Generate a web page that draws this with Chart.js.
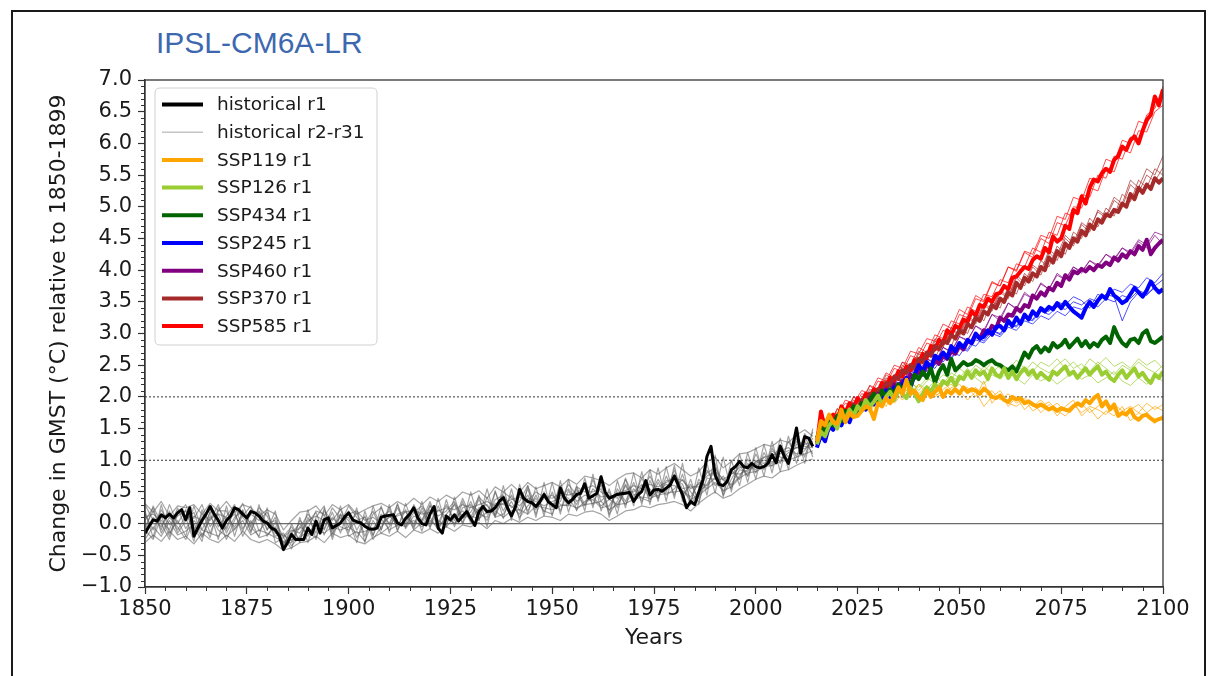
<!DOCTYPE html>
<html><head><meta charset="utf-8">
<script src="https://cdn.jsdelivr.net/npm/chart.js@4.4.0/dist/chart.umd.min.js"></script>
<style>
html,body{margin:0;padding:0;background:#fff;}
#wrap{position:relative;width:1212px;height:676px;overflow:hidden;background:#fff;}
#frame{position:absolute;left:11px;top:10px;width:1195px;height:700px;border:2px solid #1a1a1a;box-sizing:border-box;}
#title{position:absolute;left:156px;top:25px;font-family:"Liberation Sans",Arial,sans-serif;font-size:30px;line-height:36px;color:#3d68b0;white-space:nowrap;}
canvas{position:absolute;left:0;top:0;}
</style></head>
<body><div id="wrap"><div id="frame"></div><div id="title">IPSL-CM6A-LR</div><canvas id="c" width="1212" height="676"></canvas></div>
<script>
// ---------- DATA ----------
const histStart = 1850;
const histR1 = [
 -0.15,-0.04,0.06,0.04,0.14,0.09,0.15,0.09,0.17,0.22,
 0.06,0.25,-0.2,-0.07,0.05,0.15,0.27,0.15,0.05,-0.07,
 0.05,0.12,0.25,0.22,0.15,0.09,0.19,0.17,0.12,0.04,
 0.01,-0.07,-0.1,-0.2,-0.41,-0.3,-0.17,-0.25,-0.25,-0.25,
 -0.07,-0.17,0.04,-0.15,0.06,0.09,-0.07,-0.03,0.01,0.1,
 0.17,0.06,0.03,0.01,-0.04,-0.08,-0.09,-0.07,0.1,0.12,
 0.13,0.14,0.01,-0.02,0.08,0.15,0.25,0.09,0.0,-0.02,
 0.15,0.27,-0.07,-0.15,0.12,0.06,0.14,0.04,0.12,0.19,
 0.08,-0.03,0.19,0.27,0.19,0.2,0.25,0.35,0.41,0.25,
 0.12,0.27,0.54,0.4,0.35,0.33,0.27,0.35,0.46,0.35,
 0.3,0.25,0.56,0.4,0.33,0.38,0.46,0.48,0.63,0.4,
 0.44,0.48,0.74,0.5,0.4,0.43,0.46,0.47,0.48,0.49,
 0.35,0.45,0.51,0.68,0.45,0.53,0.54,0.51,0.56,0.61,
 0.75,0.6,0.46,0.25,0.35,0.3,0.5,0.69,1.06,1.22,
 0.77,0.62,0.6,0.67,0.85,0.9,0.98,0.9,0.88,0.95,
 0.9,0.88,0.9,0.95,1.09,0.96,1.22,1.06,0.95,1.2,
 1.51,1.11,1.37,1.35,1.22
];

// historical r2-r31 (sampled every 2 years, 1850-2014)
const histMemberStart = 1850, histMemberStep = 2;
const histMembers = [
 [0.15,-0.1,0.22,-0.02,0.12, 0.2,-0.15,0.1,0.25,-0.05, 0.12,0.3,-0.08,0.15,0.05, 0.18,-0.12,-0.2,-0.05,-0.28,
  0.1,-0.15,0.2,0.05,0.22, -0.05,0.18,-0.2,0.15,0.25, -0.02,0.25,0.0,0.3,0.05, 0.35,0.0,0.3,0.05,0.4,
  0.1,0.38,0.15,0.5,0.2, 0.45,0.2,0.55,0.15,0.5, 0.25,0.6,0.3,0.55,0.3, 0.7,0.35,0.5,0.25,0.62,
  0.4,0.72,0.45,0.7,0.5, 0.85,0.45,0.62,0.4,0.85, 0.6,0.75,0.55,1.0,0.75, 1.1,0.85,1.2,0.95,1.3, 1.05,1.42,1.2],
 [-0.2,0.1,-0.05,0.2,-0.15, 0.05,0.18,-0.2,0.08,0.15, -0.15,0.1,0.2,-0.12,0.18, -0.1,0.1,-0.35,-0.15,0.0,
  -0.2,0.05,-0.1,0.18,-0.15, 0.2,-0.1,0.12,-0.18,0.1, 0.2,-0.05,0.22,-0.08,0.25, 0.0,0.28,-0.02,0.32,0.08,
  0.35,0.05,0.42,0.12,0.4, 0.12,0.48,0.2,0.45,0.18, 0.5,0.2,0.52,0.3,0.6, 0.3,0.62,0.2,0.55,0.35,
  0.65,0.35,0.68,0.4,0.75, 0.45,0.78,0.35,0.7,0.55, 0.95,0.5,0.85,0.7,1.02, 0.8,1.12,0.9,1.25,0.98, 1.35,1.05,1.45],
 [0.05,0.25,-0.15,0.1,-0.05, -0.25,0.05,-0.1,-0.15,0.2, 0.2,-0.1,0.12,0.28,-0.12, 0.05,-0.2,-0.15,-0.35,-0.2,
  0.02,0.18,-0.18,0.1,-0.05, -0.1,0.05,0.1,-0.25,-0.05, 0.12,0.0,-0.05,0.18,0.28, 0.1,-0.1,0.15,0.3,0.0,
  0.28,0.15,0.1,0.38,0.45, 0.25,0.35,0.6,0.25,0.4, 0.45,0.3,0.28,0.58,0.5, 0.5,0.55,0.15,0.35,0.6,
  0.35,0.6,0.55,0.4,0.68, 0.7,0.62,0.3,0.5,0.62, 0.85,0.45,0.7,0.92,0.75, 1.0,0.9,1.15,1.05,1.02, 1.25,1.3,1.1],
 [-0.1,-0.25,0.12,-0.2,0.2, 0.1,-0.28,0.22,-0.15,-0.2, -0.05,0.2,-0.2,0.05,-0.22, -0.18,-0.05,-0.3,-0.3,-0.05,
  -0.15,-0.22,0.1,-0.12,0.15, -0.2,-0.12,-0.28,0.05,-0.15, -0.05,0.15,0.2,-0.1,0.02, 0.22,0.05,-0.05,0.1,0.2,
  0.05,0.25,0.3,0.1,0.15, 0.35,0.1,0.28,0.4,0.2, 0.15,0.45,0.4,0.22,0.35, 0.38,0.25,0.28,0.5,0.3,
  0.55,0.4,0.35,0.65,0.45, 0.55,0.7,0.5,0.35,0.72, 0.7,0.7,0.6,0.75,0.95, 0.85,1.05,0.95,1.15,1.2, 1.1,1.15,1.35],
 [0.3,0.05,0.1,0.15,-0.1, 0.12,0.08,0.3,-0.05,0.15, 0.1,-0.05,0.15,0.0,0.2, 0.0,0.05,-0.22,-0.1,-0.15,
  0.05,0.12,0.05,-0.05,0.1, 0.15,0.2,0.05,0.1,0.0, 0.1,0.12,0.18,0.22,0.15, 0.18,0.2,0.25,0.22,0.3,
  0.25,0.3,0.35,0.28,0.32, 0.38,0.42,0.35,0.5,0.42, 0.4,0.48,0.45,0.5,0.55, 0.6,0.5,0.42,0.48,0.52,
  0.6,0.55,0.62,0.58,0.65, 0.72,0.68,0.55,0.62,0.75, 0.82,0.7,0.78,0.88,0.92, 0.95,1.05,1.08,1.1,1.15, 1.2,1.25,1.3],
 [-0.25,-0.05,-0.2,0.05,-0.18, -0.12,0.0,-0.22,0.12,-0.1, -0.2,-0.08,0.05,-0.18,-0.1, -0.15,-0.22,-0.28,-0.25,-0.22,
  -0.12,-0.08,-0.15,-0.05,-0.1, -0.05,-0.15,-0.12,-0.08,0.08, -0.1,-0.02,0.0,0.05,-0.05, 0.05,-0.05,0.08,0.0,0.1,
  0.12,0.08,0.18,0.2,0.1, 0.2,0.22,0.15,0.28,0.25, 0.22,0.28,0.3,0.25,0.3, 0.32,0.35,0.22,0.3,0.32,
  0.38,0.42,0.4,0.45,0.48, 0.5,0.52,0.38,0.45,0.55, 0.65,0.52,0.58,0.72,0.8, 0.82,0.9,0.92,0.98,1.0, 1.05,1.1,1.15],
 [0.1,0.15,0.05,-0.1,0.25, -0.08,0.12,0.05,-0.22,0.25, 0.05,0.15,-0.12,0.22,0.1, -0.2,0.02,-0.32,-0.12,-0.08,
  0.15,0.0,-0.08,0.25,0.08, 0.1,-0.22,0.0,0.2,-0.1, 0.25,-0.1,0.1,0.0,0.2, -0.05,0.22,0.1,0.0,0.25,
  0.3,0.2,0.05,0.32,0.3, 0.28,0.15,0.4,0.35,0.28, 0.35,0.4,0.55,0.35,0.45, 0.42,0.28,0.38,0.3,0.5,
  0.5,0.62,0.38,0.52,0.62, 0.6,0.52,0.42,0.65,0.6, 0.72,0.58,0.8,0.78,0.85, 0.92,1.0,0.98,1.0,1.12, 1.2,1.18,1.28],
 [-0.05,0.2,-0.1,0.3,0.0, 0.22,-0.12,0.15,0.05,0.3, -0.1,0.25,0.1,-0.05,0.25, 0.12,-0.15,-0.18,-0.28,0.05,
  -0.08,0.2,0.15,-0.15,0.0, 0.28,0.1,-0.05,-0.1,0.15, 0.0,0.3,-0.08,0.12,0.05, 0.28,0.12,0.2,0.35,0.1,
  0.18,0.42,0.28,0.15,0.5, 0.4,0.28,0.45,0.22,0.48, 0.3,0.35,0.62,0.45,0.28, 0.55,0.42,0.45,0.4,0.7,
  0.45,0.5,0.75,0.48,0.55, 0.78,0.55,0.58,0.58,0.8, 0.88,0.68,0.62,0.85,0.82, 0.98,0.95,1.05,1.2,1.05, 1.3,1.22,1.2],
 [0.32,0.18,0.35,0.12,0.28, 0.25,0.3,0.15,0.32,0.2, 0.35,0.18,0.3,0.25,0.12, 0.22,0.15,-0.1,0.05,0.18,
  0.2,0.28,0.12,0.3,0.22, 0.3,0.15,0.22,0.28,0.32, 0.25,0.35,0.28,0.4,0.3, 0.42,0.35,0.45,0.38,0.5,
  0.45,0.52,0.4,0.58,0.5, 0.62,0.5,0.65,0.55,0.6, 0.65,0.58,0.7,0.62,0.75, 0.72,0.68,0.6,0.7,0.78,
  0.8,0.72,0.85,0.78,0.88, 0.95,0.85,0.75,0.82,0.98, 1.05,0.88,0.98,1.1,1.12, 1.18,1.25,1.22,1.32,1.28, 1.4,1.48,1.38],
 [-0.3,-0.18,-0.28,-0.12,-0.25, -0.2,-0.32,-0.15,-0.25,-0.3, -0.18,-0.28,-0.12,-0.25,-0.3, -0.25,-0.32,-0.42,-0.38,-0.3,
  -0.28,-0.2,-0.3,-0.15,-0.22, -0.18,-0.28,-0.32,-0.22,-0.15, -0.2,-0.12,-0.22,-0.1,-0.15, -0.08,-0.15,-0.05,-0.12,-0.02,
  -0.05,0.02,-0.08,0.05,0.0, 0.08,0.02,0.1,0.05,0.12, 0.1,0.05,0.15,0.12,0.18, 0.2,0.15,0.05,0.12,0.2,
  0.22,0.28,0.25,0.3,0.32, 0.35,0.3,0.2,0.32,0.42, 0.5,0.4,0.45,0.55,0.62, 0.7,0.75,0.72,0.82,0.85, 0.92,0.98,1.02],
 [0.2,-0.22,0.3,-0.15,0.05, -0.2,0.28,-0.1,0.18,-0.25, 0.28,-0.2,0.22,-0.15,0.3, -0.1,0.2,-0.4,0.0,-0.3,
  0.22,-0.25,0.25,-0.2,0.28, -0.15,0.25,-0.3,0.28,-0.1, 0.3,-0.12,0.32,-0.05,0.35, -0.08,0.4,-0.05,0.42,0.0,
  0.5,0.05,0.55,0.1,0.6, 0.05,0.62,0.15,0.58,0.12, 0.65,0.15,0.7,0.2,0.72, 0.25,0.75,0.1,0.68,0.25,
  0.8,0.3,0.85,0.35,0.9, 0.4,0.95,0.3,0.88,0.45, 1.08,0.42,1.0,0.6,1.12, 0.7,1.25,0.8,1.35,0.85, 1.45,0.95,1.5],
 [-0.12,0.28,0.0,-0.25,0.15, 0.3,-0.05,-0.28,0.2,0.08, -0.25,0.05,0.32,-0.05,-0.2, 0.25,-0.3,-0.22,-0.4,0.1,
  -0.3,0.1,0.28,-0.25,0.15, 0.05,-0.3,0.2,-0.2,0.28, -0.15,0.32,-0.05,0.25,-0.12, 0.3,-0.1,0.38,-0.05,0.35,
  0.0,0.45,-0.05,0.52,0.08, 0.55,0.05,0.6,0.1,0.65, 0.12,0.68,0.18,0.6,0.2, 0.78,0.2,0.55,0.15,0.72,
  0.28,0.82,0.3,0.88,0.35, 0.92,0.35,0.7,0.3,0.95, 0.48,1.05,0.5,1.1,0.65, 1.2,0.75,1.3,0.82,1.38, 0.95,1.4,1.05]
];

// scenario r1 runs, yearly 2015-2100
const sspStart = 2015;
const ssp119 = [1.3,1.62,1.55,1.72,1.6,
 1.58,1.8,1.6,1.75,1.68,1.7,1.78,1.85,1.82,1.65,
 1.9,1.85,1.98,1.9,2.0,2.15,2.05,2.27,2.05,2.1,
 2.0,1.95,2.1,2.0,2.08,2.15,2.0,2.1,2.05,2.12,
 2.05,2.15,2.08,2.12,2.1,2.05,2.13,2.08,2.0,1.98,
 2.02,1.95,1.92,2.0,1.96,1.98,1.9,1.93,1.88,1.85,
 1.88,1.84,1.8,1.83,1.78,1.82,1.8,1.78,1.85,1.9,
 1.86,1.95,1.9,1.98,2.03,1.85,1.93,1.8,1.88,1.7,
 1.75,1.72,1.8,1.68,1.64,1.7,1.72,1.66,1.62,1.65,
 1.67];
const ssp126 = [1.25,1.45,1.38,1.55,1.62,
 1.5,1.72,1.65,1.8,1.7,1.85,1.78,1.95,1.85,1.92,
 2.02,1.88,2.0,2.08,1.95,2.1,2.05,1.98,2.15,2.05,
 1.93,2.05,2.15,2.08,2.2,2.12,2.25,2.2,2.3,2.18,
 2.32,2.28,2.4,2.3,2.42,2.35,2.4,2.28,2.45,2.35,
 2.32,2.45,2.3,2.4,2.28,2.38,2.45,2.35,2.42,2.3,
 2.38,2.32,2.27,2.4,2.35,2.42,2.48,2.35,2.4,2.3,
 2.38,2.45,2.35,2.42,2.48,2.35,2.4,2.3,2.25,2.35,
 2.42,2.3,2.38,2.45,2.32,2.38,2.28,2.22,2.35,2.3,
 2.4];
const ssp434 = [1.35,1.52,1.45,1.65,1.55,
 1.7,1.62,1.78,1.7,1.85,1.75,1.9,1.82,1.95,2.05,
 1.92,2.1,2.0,2.12,2.05,2.2,2.1,2.25,2.18,2.35,
 2.28,2.4,2.3,2.45,2.22,2.4,2.5,2.35,2.6,2.42,
 2.48,2.55,2.5,2.52,2.58,2.55,2.5,2.55,2.58,2.52,
 2.5,2.45,2.42,2.48,2.4,2.55,2.7,2.62,2.75,2.8,
 2.7,2.78,2.72,2.85,2.78,2.82,2.9,2.78,2.85,2.92,
 2.8,2.88,2.78,2.85,2.8,2.9,2.95,2.85,3.1,2.95,
 2.85,2.8,2.9,2.92,2.85,3.0,3.05,2.88,2.85,2.9,
 2.95];
const ssp245 = [1.2,1.4,1.3,1.55,1.48,
 1.62,1.55,1.7,1.6,1.78,1.72,1.85,1.8,1.95,1.88,
 2.0,1.95,2.1,2.0,2.15,2.1,2.2,2.3,2.15,2.35,
 2.5,2.4,2.55,2.45,2.65,2.6,2.7,2.62,2.8,2.72,
 2.85,2.78,2.9,2.85,3.0,2.92,2.95,3.05,2.98,3.1,
 3.12,3.05,3.2,3.12,3.25,3.15,3.3,3.22,3.35,3.28,
 3.4,3.35,3.42,3.38,3.48,3.4,3.5,3.42,3.35,3.3,
 3.25,3.4,3.5,3.42,3.52,3.6,3.55,3.7,3.6,3.55,
 3.48,3.52,3.62,3.72,3.65,3.58,3.68,3.82,3.72,3.65,
 3.7];
const ssp460 = [1.3,1.5,1.42,1.6,1.5,
 1.68,1.6,1.75,1.68,1.8,1.75,1.9,1.85,1.98,1.9,
 2.05,2.0,2.12,2.05,2.2,2.15,2.25,2.2,2.35,2.3,
 2.42,2.35,2.5,2.45,2.58,2.52,2.65,2.6,2.72,2.68,
 2.8,2.75,2.88,2.85,2.98,2.92,3.05,3.0,3.12,3.08,
 3.25,3.2,3.3,3.28,3.4,3.35,3.45,3.42,3.6,3.55,
 3.65,3.6,3.72,3.68,3.8,3.75,3.92,3.85,3.98,3.95,
 4.02,3.98,4.05,4.0,4.08,4.05,4.12,4.08,4.2,4.15,
 4.25,4.2,4.3,4.25,4.38,4.32,4.48,4.25,4.35,4.42,
 4.48];
const ssp370 = [1.28,1.48,1.4,1.6,1.52,
 1.7,1.62,1.78,1.72,1.88,1.8,1.95,1.9,2.05,2.0,
 2.12,2.08,2.22,2.18,2.32,2.28,2.42,2.38,2.5,2.45,
 2.6,2.55,2.7,2.65,2.8,2.75,2.88,2.85,2.98,2.92,
 3.05,3.0,3.15,3.1,3.25,3.2,3.35,3.3,3.45,3.4,
 3.55,3.5,3.65,3.6,3.8,3.72,3.88,3.82,3.95,3.9,
 4.05,4.0,4.2,4.12,4.3,4.22,4.42,4.35,4.5,4.45,
 4.62,4.55,4.72,4.65,4.8,4.75,4.88,4.85,4.95,4.92,
 5.05,5.0,5.2,5.12,5.3,5.22,5.35,5.28,5.45,5.38,
 5.45];
const ssp585 = [1.25,1.77,1.5,1.65,1.72,
 1.6,1.85,1.75,1.9,1.82,1.98,1.9,2.05,1.98,2.12,
 2.08,2.22,2.15,2.3,2.25,2.4,2.32,2.48,2.42,2.58,
 2.52,2.68,2.62,2.8,2.75,2.9,2.85,3.05,2.98,3.12,
 3.08,3.22,3.18,3.35,3.28,3.45,3.42,3.55,3.5,3.62,
 3.64,3.75,3.7,3.88,3.9,3.98,4.05,4.02,4.16,4.22,
 4.18,4.35,4.28,4.53,4.45,4.5,4.7,4.65,4.95,4.9,
 5.16,5.05,5.3,5.43,5.4,5.53,5.6,5.55,5.74,5.8,
 5.95,5.9,6.05,6.11,6.0,6.2,6.37,6.45,6.74,6.6,
 6.85];

// other scenario members (sampled every 2 years, 2016-2100)
const sspMemberStart = 2016, sspMemberStep = 2;
const ssp119Members = [
 [1.45,1.6,1.75,1.68,1.85,1.78,1.95,1.88,2.05,1.95,2.12,2.0,2.2,2.05,2.15,2.25,2.1,2.2,2.05,2.15,2.0,2.1,1.95,2.05,1.9,1.98,1.85,1.95,1.82,1.9,1.78,1.88,1.75,1.85,1.8,1.72,1.88,1.78,1.85,1.75,1.9,1.8,1.88],
 [1.35,1.7,1.55,1.8,1.7,1.9,1.75,1.98,1.85,2.1,1.95,2.15,2.05,2.18,2.0,2.12,2.2,2.05,2.15,2.0,2.25,1.9,2.05,1.85,2.0,1.8,1.92,1.75,1.88,1.7,1.85,1.95,1.7,1.82,1.65,1.78,1.7,1.85,1.62,1.75,1.68,1.58,1.72],
 [1.55,1.5,1.72,1.62,1.78,1.9,1.8,1.95,2.0,1.9,2.05,2.15,2.0,2.1,2.05,2.0,2.15,2.1,1.95,2.08,1.85,2.0,2.1,1.9,1.85,1.95,1.78,1.85,1.92,1.78,1.7,1.82,1.9,1.75,1.85,1.95,1.78,1.72,1.8,1.88,1.75,1.85,1.78]
];
const ssp126Members = [
 [1.4,1.62,1.55,1.78,1.7,1.9,1.82,2.0,1.95,2.1,2.05,2.2,2.15,2.3,2.22,2.35,2.28,2.45,2.35,2.5,2.4,2.55,2.45,2.35,2.5,2.4,2.55,2.45,2.38,2.5,2.6,2.45,2.52,2.4,2.55,2.45,2.35,2.5,2.42,2.55,2.45,2.38,2.5],
 [1.5,1.45,1.68,1.6,1.82,1.75,1.95,1.88,2.05,2.0,2.15,2.05,2.2,2.12,2.25,2.18,2.32,2.25,2.38,2.3,2.2,2.35,2.28,2.4,2.3,2.2,2.35,2.25,2.32,2.2,2.3,2.4,2.28,2.35,2.22,2.3,2.4,2.25,2.18,2.3,2.2,2.32,2.25],
 [1.35,1.55,1.75,1.68,1.88,1.8,1.9,2.05,1.92,2.15,2.08,2.25,2.1,2.25,2.35,2.2,2.38,2.3,2.45,2.32,2.48,2.38,2.5,2.42,2.58,2.45,2.4,2.55,2.48,2.6,2.45,2.55,2.42,2.6,2.5,2.62,2.48,2.55,2.45,2.6,2.5,2.58,2.45]
];
const ssp245Members = [
 [1.45,1.5,1.7,1.65,1.85,1.8,2.0,1.95,2.15,2.1,2.3,2.25,2.45,2.4,2.6,2.55,2.72,2.65,2.85,2.8,2.95,3.05,2.98,3.15,3.1,3.25,3.2,3.35,3.3,3.42,3.38,3.5,3.45,3.55,3.5,3.62,3.58,3.2,3.5,3.65,3.6,3.75,3.85],
 [1.38,1.62,1.58,1.78,1.72,1.92,1.88,2.05,2.0,2.2,2.12,2.35,2.3,2.5,2.45,2.65,2.6,2.78,2.72,2.9,2.85,3.0,2.95,3.1,3.05,3.2,3.15,3.28,3.22,3.35,3.28,3.42,3.38,3.48,3.42,3.55,3.5,3.6,3.55,3.68,3.62,3.72,3.65],
 [1.5,1.45,1.65,1.75,1.7,1.9,1.98,1.92,2.1,2.25,2.2,2.4,2.35,2.55,2.5,2.7,2.62,2.8,2.75,2.95,2.88,3.05,3.0,3.18,3.12,3.3,3.22,3.4,3.35,3.5,3.45,3.58,3.52,3.4,3.62,3.55,3.7,3.65,3.78,3.72,3.88,3.8,3.95]
];
const ssp460Members = [
 [1.4,1.58,1.52,1.75,1.7,1.92,1.85,2.08,2.02,2.25,2.18,2.42,2.35,2.6,2.52,2.78,2.7,2.95,2.88,3.12,3.02,3.3,3.2,3.48,3.38,3.62,3.55,3.78,3.7,3.92,3.85,4.05,3.98,4.15,4.08,4.25,4.18,4.35,4.28,4.48,4.4,4.6,4.55],
 [1.35,1.6,1.58,1.78,1.75,1.95,1.92,2.12,2.1,2.28,2.25,2.42,2.4,2.6,2.55,2.78,2.72,2.95,2.9,3.12,3.05,3.3,3.25,3.48,3.4,3.65,3.55,3.8,3.7,3.95,3.85,4.05,3.95,4.15,4.05,4.25,4.15,4.35,4.25,4.45,4.35,4.55,4.4]
];
const ssp370Members = [
 [1.55,1.52,1.82,1.7,2.0,1.88,2.18,2.05,2.35,2.25,2.55,2.42,2.72,2.62,2.92,2.8,3.1,2.98,3.28,3.18,3.48,3.38,3.68,3.58,3.92,3.8,4.08,3.98,4.32,4.22,4.55,4.42,4.75,4.65,4.92,4.82,5.1,5.0,5.35,5.22,5.5,5.4,5.62],
 [1.4,1.62,1.55,1.82,1.72,1.98,1.9,2.15,2.08,2.35,2.25,2.52,2.42,2.72,2.6,2.9,2.8,3.1,3.0,3.32,3.2,3.52,3.4,3.75,3.62,3.95,3.82,4.15,4.05,4.38,4.25,4.6,4.5,4.82,4.68,4.98,4.85,5.2,5.08,5.42,5.3,5.6,5.5],
 [1.5,1.45,1.75,1.68,1.95,1.85,2.12,2.02,2.3,2.2,2.5,2.38,2.68,2.58,2.88,2.78,3.08,2.95,3.25,3.15,3.45,3.35,3.65,3.55,3.88,3.75,4.05,3.92,4.28,4.15,4.5,4.38,4.72,4.6,4.95,4.85,5.15,5.05,5.42,5.3,5.6,5.5,5.8]
];
const ssp585Members = [
 [1.55,1.7,1.75,1.9,1.85,2.05,2.0,2.25,2.2,2.45,2.4,2.65,2.6,2.85,2.8,3.05,3.0,3.3,3.25,3.55,3.5,3.8,3.75,4.05,4.0,4.3,4.25,4.55,4.5,4.85,4.8,5.15,5.1,5.45,5.4,5.75,5.7,6.05,6.0,6.35,6.3,6.65,6.75],
 [1.45,1.58,1.8,1.75,2.0,1.95,2.18,2.12,2.38,2.3,2.55,2.5,2.78,2.7,2.98,2.92,3.2,3.15,3.42,3.35,3.62,3.58,3.85,3.8,4.1,4.05,4.35,4.28,4.6,4.55,4.9,4.85,5.2,5.15,5.5,5.45,5.8,5.75,6.1,6.05,6.45,6.55,6.9],
 [1.62,1.55,1.72,1.95,1.9,2.1,2.05,2.3,2.25,2.5,2.45,2.72,2.68,2.92,2.88,3.15,3.08,3.38,3.3,3.6,3.52,3.82,3.75,4.05,3.98,4.28,4.2,4.5,4.42,4.75,4.7,5.0,4.98,5.3,5.25,5.6,5.55,5.9,5.85,6.2,6.18,6.5,6.6]
];

// axis / reference values
const refLevels = [0, 1, 2];
const xMin = 1850, xMax = 2100, xStep = 25;
const yMin = -1, yMax = 7, yStep = 0.5;

// legend
const legendLabels = ['historical r1','historical r2-r31','SSP119 r1','SSP126 r1','SSP434 r1','SSP245 r1','SSP460 r1','SSP370 r1','SSP585 r1'];
const legendColors = ['#000000','#c4c4c4','#ffa500','#9acd32','#006400','#0000ff','#800080','#a52a2a','#ff0000'];

// ---------- BUILD ----------
function pts(values, start, step) { return values.map((v, i) => ({x: start + i * step, y: v})); }
function rgba(hex, a) {
  const n = parseInt(hex.slice(1), 16);
  return `rgba(${(n >> 16) & 255},${(n >> 8) & 255},${n & 255},${a})`;
}

const scen = [
  {vals: ssp585, mem: ssp585Members, color: '#ff0000'},
  {vals: ssp370, mem: ssp370Members, color: '#a52a2a'},
  {vals: ssp460, mem: ssp460Members, color: '#800080'},
  {vals: ssp245, mem: ssp245Members, color: '#0000ff'},
  {vals: ssp434, mem: [], color: '#006400'},
  {vals: ssp126, mem: ssp126Members, color: '#9acd32'},
  {vals: ssp119, mem: ssp119Members, color: '#ffa500'}
];

const bottomFirst = [];
refLevels.forEach(v => {
  bottomFirst.push({
    data: [{x: xMin, y: v}, {x: xMax, y: v}],
    borderColor: v === 0 ? '#6a6a6a' : '#333333',
    borderWidth: v === 0 ? 1.2 : 1,
    borderDash: v === 0 ? [] : [2, 2]
  });
});
histMembers.forEach(m => bottomFirst.push({data: pts(m, histMemberStart, histMemberStep), borderColor: 'rgba(90,90,90,0.55)', borderWidth: 1.2}));
bottomFirst.push({data: pts(histR1, histStart, 1), borderColor: '#000000', borderWidth: 3});
scen.forEach(s => s.mem.forEach(m => bottomFirst.push({data: pts(m, sspMemberStart, sspMemberStep), borderColor: rgba(s.color, 0.7), borderWidth: 1})));
scen.forEach(s => bottomFirst.push({data: pts(s.vals, sspStart, 1), borderColor: s.color, borderWidth: 4}));
const datasets = bottomFirst.reverse().map(d => Object.assign({pointRadius: 0, tension: 0, fill: false, borderJoinStyle: 'round'}, d));

const decor = {
  id: 'decor',
  afterDatasetsDraw(chart) {
    const {ctx, chartArea: a, scales: {x, y}} = chart;
    ctx.save();
    ctx.strokeStyle = '#333'; ctx.lineWidth = 1;
    ctx.beginPath();
    for (let k = 0; k <= 80; k++) {
      if (k % 5 === 0) continue;
      const py = Math.round(y.getPixelForValue(yMin + k * 0.1)) + 0.5;
      ctx.moveTo(a.left - 4, py); ctx.lineTo(a.left, py);
    }
    for (let yr = xMin; yr <= xMax; yr += 5) {
      if ((yr - xMin) % xStep === 0) continue;
      const px = Math.round(x.getPixelForValue(yr)) + 0.5;
      ctx.moveTo(px, a.bottom); ctx.lineTo(px, a.bottom + 4);
    }
    ctx.stroke();
    ctx.lineWidth = 1.3; ctx.strokeStyle = '#333';
    ctx.strokeRect(a.left, a.top, a.right - a.left, a.bottom - a.top);
    const bx = a.left + 10, by = a.top + 8, bw = 222, bh = 257, r = 5;
    ctx.beginPath();
    ctx.moveTo(bx + r, by); ctx.lineTo(bx + bw - r, by); ctx.quadraticCurveTo(bx + bw, by, bx + bw, by + r);
    ctx.lineTo(bx + bw, by + bh - r); ctx.quadraticCurveTo(bx + bw, by + bh, bx + bw - r, by + bh);
    ctx.lineTo(bx + r, by + bh); ctx.quadraticCurveTo(bx, by + bh, bx, by + bh - r);
    ctx.lineTo(bx, by + r); ctx.quadraticCurveTo(bx, by, bx + r, by); ctx.closePath();
    ctx.fillStyle = 'rgba(255,255,255,0.85)'; ctx.fill();
    ctx.strokeStyle = '#d0d0d0'; ctx.lineWidth = 1; ctx.stroke();
    ctx.font = "18.5px 'DejaVu Sans'"; ctx.textBaseline = 'middle'; ctx.textAlign = 'left';
    legendLabels.forEach((lab, i) => {
      const yy = by + 16.5 + i * 27.7;
      ctx.strokeStyle = legendColors[i]; ctx.lineWidth = i === 1 ? 1.5 : 4;
      ctx.beginPath(); ctx.moveTo(bx + 7, yy); ctx.lineTo(bx + 48, yy); ctx.stroke();
      ctx.fillStyle = '#1a1a1a'; ctx.fillText(lab, bx + 62, yy + 1);
    });
    ctx.restore();
  }
};

new Chart(document.getElementById('c'), {
  type: 'line',
  data: {datasets},
  options: {
    responsive: false, animation: false, events: [],
    layout: {padding: {left: 0, right: 49, top: 80, bottom: 0}},
    plugins: {legend: {display: false}, tooltip: {enabled: false}},
    scales: {
      x: {
        type: 'linear', position: 'bottom', min: xMin, max: xMax,
        afterFit(s) { s.height = 89; },
        ticks: {stepSize: xStep, autoSkip: false, maxRotation: 0, padding: 3, color: '#1a1a1a', font: {family: "'DejaVu Sans'", size: 21}, callback: v => String(v)},
        grid: {drawOnChartArea: false, drawTicks: true, tickLength: 7, tickColor: '#333', tickWidth: 1.2},
        border: {display: true, color: '#333', width: 1.2},
        title: {display: true, text: 'Years', color: '#1a1a1a', font: {family: "'DejaVu Sans'", size: 22}, padding: {top: 0, bottom: 25}}
      },
      y: {
        type: 'linear', position: 'left', min: yMin, max: yMax,
        afterFit(s) { s.width = 145; },
        ticks: {stepSize: yStep, autoSkip: false, padding: 6, color: '#1a1a1a', font: {family: "'DejaVu Sans'", size: 21}, callback: v => (Math.round(v * 10) / 10).toFixed(1).replace('-', '\u2212')},
        grid: {drawOnChartArea: false, drawTicks: true, tickLength: 7, tickColor: '#333', tickWidth: 1.2},
        border: {display: true, color: '#333', width: 1.2},
        title: {display: true, text: 'Change in GMST (°C) relative to 1850-1899', color: '#1a1a1a', font: {family: "'DejaVu Sans'", size: 22}, padding: {top: 46, bottom: 0}}
      }
    }
  },
  plugins: [decor]
});
</script></body></html>
